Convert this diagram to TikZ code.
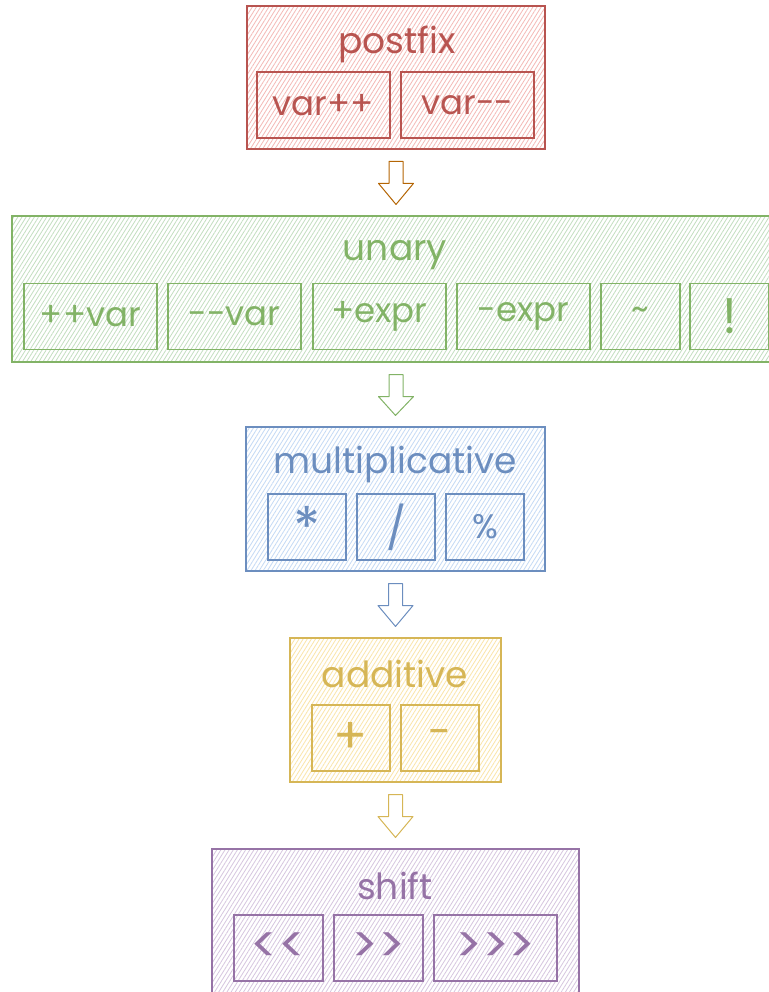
\documentclass[tikz,border=0pt]{standalone}
\usepackage{fontspec}
\setmainfont{Poppins}[Ligatures=TeXOff]
\usetikzlibrary{patterns.meta,calc}
\definecolor{rS}{HTML}{B85450}\definecolor{rF}{HTML}{F4B9B6}
\definecolor{gS}{HTML}{82B366}\definecolor{gF}{HTML}{C3DEC0}
\definecolor{bS}{HTML}{6C8EBF}\definecolor{bF}{HTML}{C4DAF5}
\definecolor{yS}{HTML}{D6B656}\definecolor{yF}{HTML}{FBE5A8}
\definecolor{pS}{HTML}{9673A6}\definecolor{pF}{HTML}{D6C6DF}
\definecolor{oS}{HTML}{B46504}
\tikzset{
  sk/.style 2 args={draw=#1, line width=1.1pt, preaction={fill=white},
    pattern={Lines[angle=58,distance=3.5pt,line width=0.8pt]}, pattern color=#2},
  outer/.style 2 args={sk={#1}{#2}, inner sep=0pt},
  inner/.style 2 args={sk={#1}{#2}, inner sep=0pt, minimum height=66pt, text=#1,
    font=\fontsize{34}{36}\selectfont},
  title/.style={text=#1, font=\fontsize{36}{38}\selectfont, inner sep=0pt},
  flow/.style={draw=#1, line width=1pt, fill=white, line join=round},
  bigop/.style={font=\fontsize{50}{50}\selectfont},
}
\begin{document}
\begin{tikzpicture}[x=1pt,y=-1pt]
\useasboundingbox (0,0) rectangle (768,992);
% postfix
\node[outer={rS}{rF}, minimum width=298pt, minimum height=143pt] (postfix) at (396,77.5) {};
\node[title=rS] (postfixT) at (397,44) {postfix};
\node[inner={rS}{rF}, minimum width=133pt] (pinc) at (323.5,105) {var++};
\node[inner={rS}{rF}, minimum width=133pt] (pdec) at (467.5,105) {var--};
% unary
\node[outer={gS}{gF}, minimum width=768pt, minimum height=146pt] (unary) at (396,289) {};
\node[title=gS] (unaryT) at (395,255) {unary};
\node[inner={gS}{gF}, minimum width=133pt] (uinc) at (90.5,316.5) {++var};
\node[inner={gS}{gF}, minimum width=133pt] (udec) at (234.5,316.5) {--var};
\node[inner={gS}{gF}, minimum width=133pt] (upl) at (379.5,316.5) {+expr};
\node[inner={gS}{gF}, minimum width=133pt] (umi) at (523.5,316.5) {-expr};
\node[inner={gS}{gF}, minimum width=79pt] (util) at (640.5,316.5) {\raisebox{6pt}{\char`\~}};
\node[inner={gS}{gF}, minimum width=79pt, bigop] (unot) at (729.5,316.5) {!};
% multiplicative
\node[outer={bS}{bF}, minimum width=299pt, minimum height=144pt] (mult) at (395.5,499) {};
\node[title=bS] (multT) at (395,464) {multiplicative};
\node[inner={bS}{bF}, minimum width=78pt] (mmul) at (307,527) {\raisebox{-14pt}{\fontsize{56}{56}\selectfont *}};
\node[inner={bS}{bF}, minimum width=78pt, font=\fontsize{42}{42}\selectfont] (mdiv) at (396,527) {/};
\node[inner={bS}{bF}, minimum width=78pt] (mmod) at (485,527) {\%};
% additive
\node[outer={yS}{yF}, minimum width=211pt, minimum height=144pt] (add) at (395.5,710) {};
\node[title=yS] (addT) at (395,674) {additive};
\node[inner={yS}{yF}, minimum width=78pt, bigop] (aplus) at (351,738) {+};
\node[inner={yS}{yF}, minimum width=78pt, font=\fontsize{42}{42}\selectfont] (aminus) at (440,738) {-};
% shift
\node[outer={pS}{pF}, minimum width=367pt, minimum height=146pt] (shift) at (395.5,922) {};
\node[title=pS] (shiftT) at (395,886) {shift};
\node[inner={pS}{pF}, minimum width=89pt, bigop] (sl) at (278.5,948) {<<};
\node[inner={pS}{pF}, minimum width=89pt, bigop] (sr) at (378.5,948) {>>};
\node[inner={pS}{pF}, minimum width=123pt, bigop] (sru) at (495.5,948) {>>>};
% arrows
\foreach \a/\b/\c in {postfix/unary/oS, unary/mult/gS, mult/add/bS, add/shift/yS}{
  \draw[flow=\c] ($(\a.south)+(-7,12)$) -- ($(\a.south)+(7,12)$) -- ($(\a.south)+(7,34)$)
    -- ($(\a.south)+(17.5,34)$) -- ($(\b.north)+(0,-11)$) -- ($(\a.south)+(-17.5,34)$)
    -- ($(\a.south)+(-7,34)$) -- cycle;
}
\end{tikzpicture}
\end{document}
